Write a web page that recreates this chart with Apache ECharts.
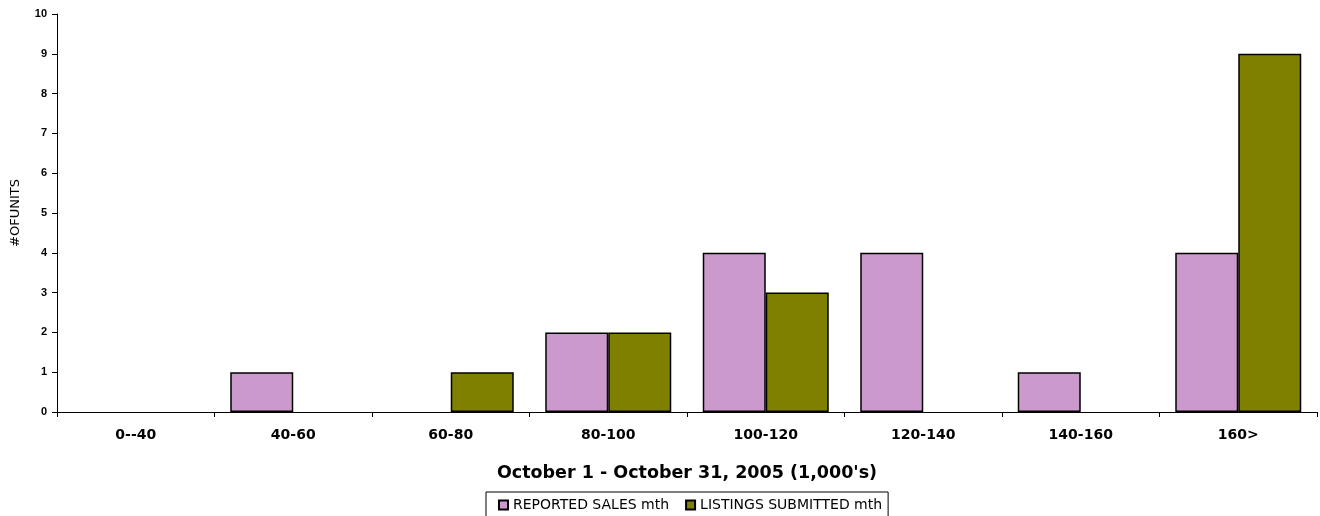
<!DOCTYPE html>
<html>
<head>
<meta charset="utf-8">
<script src="https://cdn.jsdelivr.net/npm/echarts@6/dist/echarts.min.js"></script>
<style>
  html, body { margin: 0; padding: 0; background: #fff; }
  #chart { width: 1320px; height: 516px; }
</style>
</head>
<body>
<div id="chart"></div>
<script>
const categories = ['0--40', '40-60', '60-80', '80-100', '100-120', '120-140', '140-160', '160>'];
const reportedSales = [0, 1, 0, 2, 4, 4, 1, 4];
const listingsSubmitted = [0, 0, 1, 2, 3, 0, 0, 9];

const chart = echarts.init(document.getElementById('chart'));

const arial = 'Arial, "Liberation Sans", sans-serif';
const wide = '"DejaVu Sans", Arial, sans-serif';

// zero-height bars should not show a border line
const toItems = vals => vals.map(v => v === 0 ? { value: v, itemStyle: { borderWidth: 0 } } : v);

chart.setOption({
  animation: false,
  textStyle: { fontFamily: arial },
  grid: { left: 57, right: 3, top: 14, bottom: 104 },
  legend: {
    bottom: -4,
    left: 486,
    itemWidth: 9,
    itemHeight: 9,
    itemGap: 16,
    icon: 'rect',
    borderColor: '#000',
    borderWidth: 1,
    borderRadius: 0,
    padding: [6, 6, 8, 12],
    textStyle: { fontSize: 14, color: '#000', fontFamily: wide },
    data: ['REPORTED SALES mth', 'LISTINGS SUBMITTED mth']
  },
  xAxis: {
    type: 'category',
    data: categories,
    name: "October 1 - October 31, 2005 (1,000's)",
    nameLocation: 'middle',
    nameGap: 52,
    nameTextStyle: { fontSize: 17.5, fontWeight: 'bold', color: '#000', fontFamily: wide },
    axisLine: { lineStyle: { color: '#000', width: 1 } },
    axisTick: { show: true, length: 5, lineStyle: { color: '#000' } },
    axisLabel: { fontSize: 14, fontWeight: 'bold', color: '#000', margin: 16, fontFamily: wide }
  },
  yAxis: {
    type: 'value',
    min: 0,
    max: 10,
    interval: 1,
    name: '#OFUNITS',
    nameLocation: 'middle',
    nameGap: 35,
    nameTextStyle: { fontSize: 13, color: '#000', fontFamily: wide },
    splitLine: { show: false },
    axisLine: { show: true, lineStyle: { color: '#000', width: 1 } },
    axisTick: { show: true, length: 5, lineStyle: { color: '#000' } },
    axisLabel: { fontSize: 11, fontWeight: 'bold', color: '#000', margin: 10, fontFamily: arial }
  },
  series: [
    {
      name: 'REPORTED SALES mth',
      type: 'bar',
      data: toItems(reportedSales),
      barGap: '0%',
      barCategoryGap: '20%',
      itemStyle: { color: '#CC99CC', borderColor: '#000', borderWidth: 1.5 }
    },
    {
      name: 'LISTINGS SUBMITTED mth',
      type: 'bar',
      data: toItems(listingsSubmitted),
      barGap: '0%',
      barCategoryGap: '20%',
      itemStyle: { color: '#808000', borderColor: '#000', borderWidth: 1.5 }
    }
  ]
});
</script>
</body>
</html>
